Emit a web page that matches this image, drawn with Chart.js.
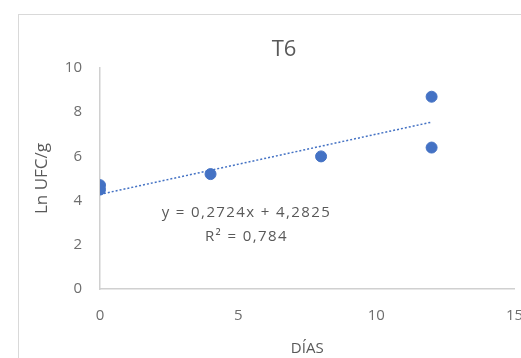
<!DOCTYPE html>
<html>
<head>
<meta charset="utf-8">
<script src="https://cdn.jsdelivr.net/npm/chart.js@4/dist/chart.umd.min.js"></script>
<style>
	html, body { margin: 0; padding: 0; background: #fff; overflow: hidden; }
	#wrap { position: relative; width: 521px; height: 358px; }
	#frame { position: absolute; left: 18px; top: 14px; width: 600px; height: 400px; border: 1px solid #d9d9d9; }
	canvas { position: absolute; left: 0; top: 0; }
</style>
</head>
<body>
<div id="wrap">
	<div id="frame"></div>
	<canvas id="chart" width="521" height="358"></canvas>
</div>
<script>
const days = [0, 0, 4, 8, 12, 12];
const lnUfc = [4.7, 4.5, 5.2, 6.0, 8.7, 6.4];
const slope = 0.2724;
const intercept = 4.2825;
const trendX = [0, 12];
const chartTitle = "T6";
const equationLines = ["y = 0,2724x + 4,2825", "R² = 0,784"];

const blue = "#4472c4";
const textColor = "#595959";
const tickColor = "#6e6e6e";
const axisColor = "#d0d0d0";
const font = "'Open Sans', sans-serif";

// title sits over the frame, not the canvas centre, and the trendline label is free text
const chartTexts = {
	id: "chartTexts",
	afterDatasetsDraw(chart) {
		const { ctx, scales } = chart;
		ctx.save();
		ctx.fillStyle = textColor;
		ctx.textAlign = "center";
		ctx.textBaseline = "middle";
		ctx.font = "22px " + font;
		ctx.fillText(chartTitle, 284, 50);
		ctx.font = "15px " + font;
		ctx.letterSpacing = "1.4px";
		const cx = scales.x.getPixelForValue(5.3);
		ctx.fillText(equationLines[0], cx, scales.y.getPixelForValue(3.44));
		ctx.fillText(equationLines[1], cx, scales.y.getPixelForValue(2.38));
		ctx.restore();
	},
};

new Chart(document.getElementById("chart"), {
	type: "scatter",
	data: {
		datasets: [
			{
				label: chartTitle,
				data: days.map((d, i) => ({ x: d, y: lnUfc[i] })),
				backgroundColor: blue,
				borderColor: blue,
				pointRadius: 5.5,
				pointHoverRadius: 5.5,
			},
			{
				label: "Lineal",
				type: "line",
				data: trendX.map((d) => ({ x: d, y: slope * d + intercept })),
				borderColor: blue,
				borderWidth: 1.5,
				borderDash: [2, 2],
				pointRadius: 0,
				fill: false,
			},
		],
	},
	plugins: [chartTexts],
	options: {
		responsive: false,
		animation: false,
		layout: { padding: { top: 68 } },
		plugins: {
			legend: { display: false },
			tooltip: { enabled: false },
			title: { display: false },
		},
		scales: {
			x: {
				type: "linear",
				min: 0,
				max: 15,
				ticks: {
					stepSize: 5,
					color: tickColor,
					font: { family: font, size: 15 },
					padding: 18,
				},
				grid: { display: false, drawTicks: false },
				border: { color: axisColor, width: 1.5 },
				title: {
					display: true,
					text: "DÍAS",
					color: textColor,
					font: { family: font, size: 15 },
					padding: 0,
				},
				afterFit(scale) {
					scale.height = 69;
					scale.paddingLeft = 0;
					scale.paddingRight = 0;
				},
			},
			y: {
				min: 0,
				max: 10,
				ticks: {
					stepSize: 2,
					color: tickColor,
					font: { family: font, size: 15 },
					padding: 18,
				},
				grid: { display: false, drawTicks: false },
				border: { color: axisColor, width: 1.5 },
				title: {
					display: true,
					text: "Ln UFC/g",
					color: textColor,
					font: { family: font, size: 17 },
					padding: { top: 32 },
				},
				afterFit(scale) {
					scale.width = 100;
				},
			},
		},
	},
});
</script>
</body>
</html>
